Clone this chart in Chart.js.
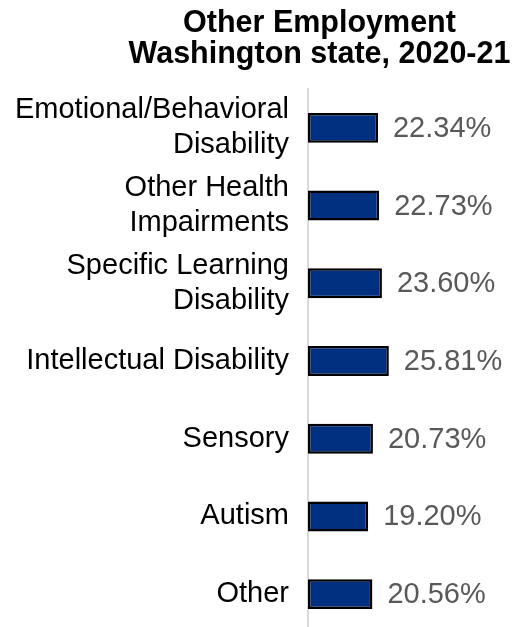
<!DOCTYPE html>
<html>
<head>
<meta charset="utf-8">
<script src="https://cdn.jsdelivr.net/npm/chart.js@4.4.1/dist/chart.umd.min.js"></script>
<style>
  html, body { margin: 0; padding: 0; background: #fff; overflow: hidden; }
  #wrap { position: relative; width: 523px; height: 640px; }
  #title {
    position: absolute; left: 0; top: 6px; width: 523px; box-sizing: border-box;
    padding-left: 116px; text-align: center;
    font-family: "Liberation Sans", Arial, sans-serif; font-weight: bold;
    font-size: 30.5px; line-height: 31px; color: #000;
  }
</style>
</head>
<body>
<div id="wrap">
  <canvas id="c" width="523" height="640"></canvas>
  <div id="title">Other Employment<br>Washington state, 2020-21</div>
</div>
<script>
const titleLines = ["Other Employment", "Washington state, 2020-21"];
const categories = [
  ["Emotional/Behavioral", "Disability"],
  ["Other Health", "Impairments"],
  ["Specific Learning", "Disability"],
  "Intellectual Disability",
  "Sensory",
  "Autism",
  "Other"
];
const values = [22.34, 22.73, 23.60, 25.81, 20.73, 19.20, 20.56];
const valueLabels = ["22.34%", "22.73%", "23.60%", "25.81%", "20.73%", "19.20%", "20.56%"];

const valueLabelPlugin = {
  id: 'valueLabels',
  afterDatasetsDraw(chart) {
    const ctx = chart.ctx;
    const meta = chart.getDatasetMeta(0);
    ctx.save();
    ctx.font = '29px "Liberation Sans", Arial, sans-serif';
    ctx.fillStyle = '#595959';
    ctx.textAlign = 'left';
    ctx.textBaseline = 'middle';
    meta.data.forEach((bar, i) => {
      ctx.fillText(valueLabels[i], bar.x + 15, bar.y + 1);
    });
    ctx.restore();
  }
};

new Chart(document.getElementById('c'), {
  type: 'bar',
  data: {
    labels: categories,
    datasets: [{
      data: values,
      backgroundColor: '#00307F',
      borderColor: '#000000',
      borderWidth: 2.5,
      borderSkipped: false,
      barPercentage: 0.385,
      categoryPercentage: 1.0
    }]
  },
  options: {
    indexAxis: 'y',
    responsive: false,
    animation: false,
    layout: { padding: { top: 89, right: 2, bottom: 7, left: 0 } },
    plugins: {
      legend: { display: false },
      title: { display: false },
      tooltip: { enabled: false }
    },
    scales: {
      x: {
        display: false,
        min: 0,
        max: 68
      },
      y: {
        afterFit(scale) {
          scale.width = 308;
          scale.paddingTop = 0;
          scale.paddingBottom = 0;
        },
        grid: { display: false, drawTicks: false },
        border: { display: true, color: '#d9d9d9', width: 2 },
        ticks: {
          color: '#000',
          padding: 19,
          font: { family: '"Liberation Sans", Arial, sans-serif', size: 29, lineHeight: 1.2 }
        }
      }
    }
  },
  plugins: [valueLabelPlugin]
});
</script>
</body>
</html>
